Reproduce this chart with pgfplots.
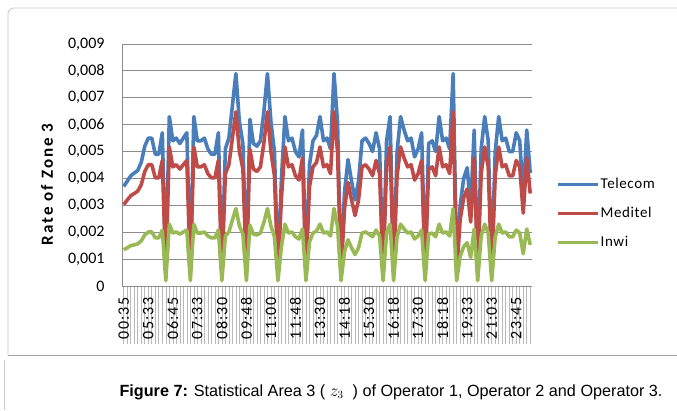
\documentclass[border=0pt]{standalone}
\usepackage{fontspec}
\setmainfont{Carlito}
\newfontfamily\capfont{Liberation Sans}
\usepackage{pgfplots}
\usepackage{pgfplotstable}
\pgfplotsset{compat=1.18}
\definecolor{telecom}{HTML}{4A7EBB}
\definecolor{meditel}{HTML}{BE4B48}
\definecolor{inwi}{HTML}{98B954}
\definecolor{gridc}{HTML}{8C8C8C}

\pgfplotstableread{
i b r g
0 0.0037 0.00303 0.00135
1 0.0039 0.00320 0.00142
2 0.0041 0.00336 0.00150
3 0.0042 0.00344 0.00153
4 0.0043 0.00353 0.00157
5 0.0046 0.00377 0.00168
6 0.0052 0.00426 0.00190
7 0.0055 0.00451 0.00201
8 0.0055 0.00451 0.00201
9 0.0049 0.00402 0.00179
10 0.0049 0.00402 0.00179
11 0.0057 0.00467 0.00208
12 0.0006 0.0005 0.0002
13 0.0063 0.00517 0.00230
14 0.0054 0.00443 0.00197
15 0.0055 0.00451 0.00201
16 0.0053 0.00435 0.00193
17 0.0055 0.00451 0.00201
18 0.0057 0.00467 0.00208
19 0.0006 0.0005 0.0002
20 0.0063 0.00517 0.00230
21 0.0054 0.00443 0.00197
22 0.0054 0.00443 0.00197
23 0.0055 0.00451 0.00201
24 0.0051 0.00418 0.00186
25 0.0049 0.00402 0.00179
26 0.0049 0.00402 0.00179
27 0.0057 0.00467 0.00208
28 0.0006 0.0005 0.0002
29 0.0051 0.00418 0.00186
30 0.0055 0.00451 0.00201
31 0.0067 0.00549 0.00245
32 0.0079 0.00648 0.00288
33 0.0061 0.00500 0.00223
34 0.0053 0.00435 0.00193
35 0.0006 0.0005 0.0002
36 0.0062 0.00508 0.00226
37 0.0053 0.00435 0.00193
38 0.0052 0.00426 0.00190
39 0.0054 0.00443 0.00197
40 0.0065 0.00533 0.00237
41 0.0079 0.00648 0.00288
42 0.0061 0.00500 0.00223
43 0.0050 0.00410 0.00183
44 0.0006 0.0005 0.0002
45 0.0040 0.00328 0.00146
46 0.0063 0.00517 0.00230
47 0.0054 0.00443 0.00197
48 0.0055 0.00451 0.00201
49 0.0050 0.00410 0.00183
50 0.0048 0.00394 0.00175
51 0.0058 0.00476 0.00212
52 0.0006 0.0005 0.0002
53 0.0045 0.00369 0.00164
54 0.0054 0.00443 0.00197
55 0.0056 0.00459 0.00204
56 0.0063 0.00517 0.00230
57 0.0054 0.00443 0.00197
58 0.0055 0.00451 0.00201
59 0.0051 0.00418 0.00186
60 0.0079 0.00648 0.00288
61 0.0061 0.00500 0.00223
62 0.0006 0.0005 0.0002
63 0.0035 0.00287 0.00128
64 0.0047 0.00385 0.00172
65 0.0039 0.00320 0.00142
66 0.0032 0.00262 0.00117
67 0.0039 0.00320 0.00142
68 0.0054 0.00443 0.00197
69 0.0055 0.00451 0.00201
70 0.0053 0.00435 0.00193
71 0.0050 0.00410 0.00183
72 0.0057 0.00467 0.00208
73 0.0051 0.00418 0.00186
74 0.0006 0.0005 0.0002
75 0.0054 0.00443 0.00197
76 0.0063 0.00517 0.00230
77 0.0006 0.0005 0.0002
78 0.0050 0.00410 0.00183
79 0.0063 0.00517 0.00230
80 0.0058 0.00476 0.00212
81 0.0054 0.00443 0.00197
82 0.0055 0.00451 0.00201
83 0.0048 0.00394 0.00175
84 0.0051 0.00418 0.00186
85 0.0057 0.00467 0.00208
86 0.0006 0.0005 0.0002
87 0.0053 0.00435 0.00193
88 0.0054 0.00443 0.00197
89 0.0050 0.00410 0.00183
90 0.0063 0.00517 0.00230
91 0.0054 0.00443 0.00197
92 0.0055 0.00451 0.00201
93 0.0051 0.00418 0.00186
94 0.0079 0.00648 0.00288
95 0.0006 0.0005 0.0002
96 0.0030 0.00246 0.00110
97 0.0040 0.00328 0.00146
98 0.0044 0.00361 0.00161
99 0.0029 0.00238 0.00106
100 0.0058 0.00476 0.00212
101 0.0006 0.0005 0.0002
102 0.0051 0.00418 0.00186
103 0.0063 0.00517 0.00230
104 0.0054 0.00443 0.00197
105 0.0006 0.0005 0.0002
106 0.0050 0.00410 0.00183
107 0.0063 0.00517 0.00230
108 0.0054 0.00443 0.00197
109 0.0055 0.00451 0.00201
110 0.0050 0.00410 0.00183
111 0.0050 0.00410 0.00183
112 0.0057 0.00467 0.00208
113 0.0054 0.00443 0.00197
114 0.0033 0.00271 0.00120
115 0.0058 0.00476 0.00212
116 0.0042 0.00344 0.00153
}\datatable

\begin{document}
\begin{tikzpicture}
\path[use as bounding box] (0pt,0pt) rectangle (677pt,410pt);
\draw[gray!45, line width=0.8pt, rounded corners=6pt] (8pt,55pt) -- (8pt,402pt) -- (700pt,402pt);
\draw[gray!70, line width=0.8pt] (8pt,55pt) -- (677pt,55pt);
\draw[gray!40, line width=0.6pt] (4pt,0pt) -- (4pt,50pt);
\begin{axis}[
  at={(122pt,124pt)}, anchor=south west,
  scale only axis, width=410pt, height=242pt,
  xmin=-0.5, xmax=116.5, ymin=0, ymax=0.009,
  axis x line=bottom, axis y line=left,
  x axis line style={-, draw=gridc, line width=0.8pt},
  y axis line style={-, draw=gridc, line width=0.8pt},
  scaled y ticks=false,
  ytick={0,0.001,0.002,0.003,0.004,0.005,0.006,0.007,0.008,0.009},
  yticklabels={0,{0,001},{0,002},{0,003},{0,004},{0,005},{0,006},{0,007},{0,008},{0,009}},
  ymajorgrids, grid style={draw=gridc, line width=0.8pt},
  ytick style={draw=none},
  yticklabel style={font=\fontsize{16}{16}\selectfont, anchor=east, xshift=44pt},
  xtick={0,...,116},
  xticklabels={00:35,,,,,,,05:33,,,,,,,06:45,,,,,,,07:33,,,,,,,08:30,,,,,,,09:48,,,,,,,11:00,,,,,,,11:48,,,,,,,13:30,,,,,,,14:18,,,,,,,15:30,,,,,,,16:18,,,,,,,17:30,,,,,,,18:18,,,,,,,19:33,,,,,,,21:03,,,,,,,23:45,,,,},
  tick align=outside,
  major tick length=58pt,
  xtick style={draw=gray!55, line width=0.6pt},
  xticklabel style={font=\fontsize{16}{16}\selectfont\addfontfeatures{LetterSpace=8}, yshift=50pt, rotate=90, anchor=east},
  ylabel={\bfseries\addfontfeatures{LetterSpace=12}Rate of Zone 3},
  ylabel style={at={(axis description cs:-0.183,0.42)}, anchor=center, font=\fontsize{17}{17}\selectfont},
  legend style={at={(axis description cs:1.051,0.30)}, anchor=west, draw=none, fill=none,
    row sep=15pt, font=\fontsize{15}{15}\selectfont\addfontfeatures{LetterSpace=4},
    nodes={inner sep=1pt}},
  legend cell align=left,
  legend image code/.code={\draw[#1] (0pt,0pt) -- (40pt,0pt);},
  every axis plot/.append style={line width=3.6pt, line join=round, no markers},
]
\addplot[telecom] table[x=i, y=b] {\datatable};
\addlegendentry{Telecom}
\addplot[meditel] table[x=i, y=r] {\datatable};
\addlegendentry{Meditel}
\addplot[inwi] table[x=i, y=g] {\datatable};
\addlegendentry{Inwi}
\end{axis}
\node[font=\capfont\fontsize{16.2}{18}\selectfont] at (391pt,18pt) {\textbf{Figure 7:} Statistical Area 3 (~$z_3$~~) of Operator 1, Operator 2 and Operator 3.};
\end{tikzpicture}
\end{document}
